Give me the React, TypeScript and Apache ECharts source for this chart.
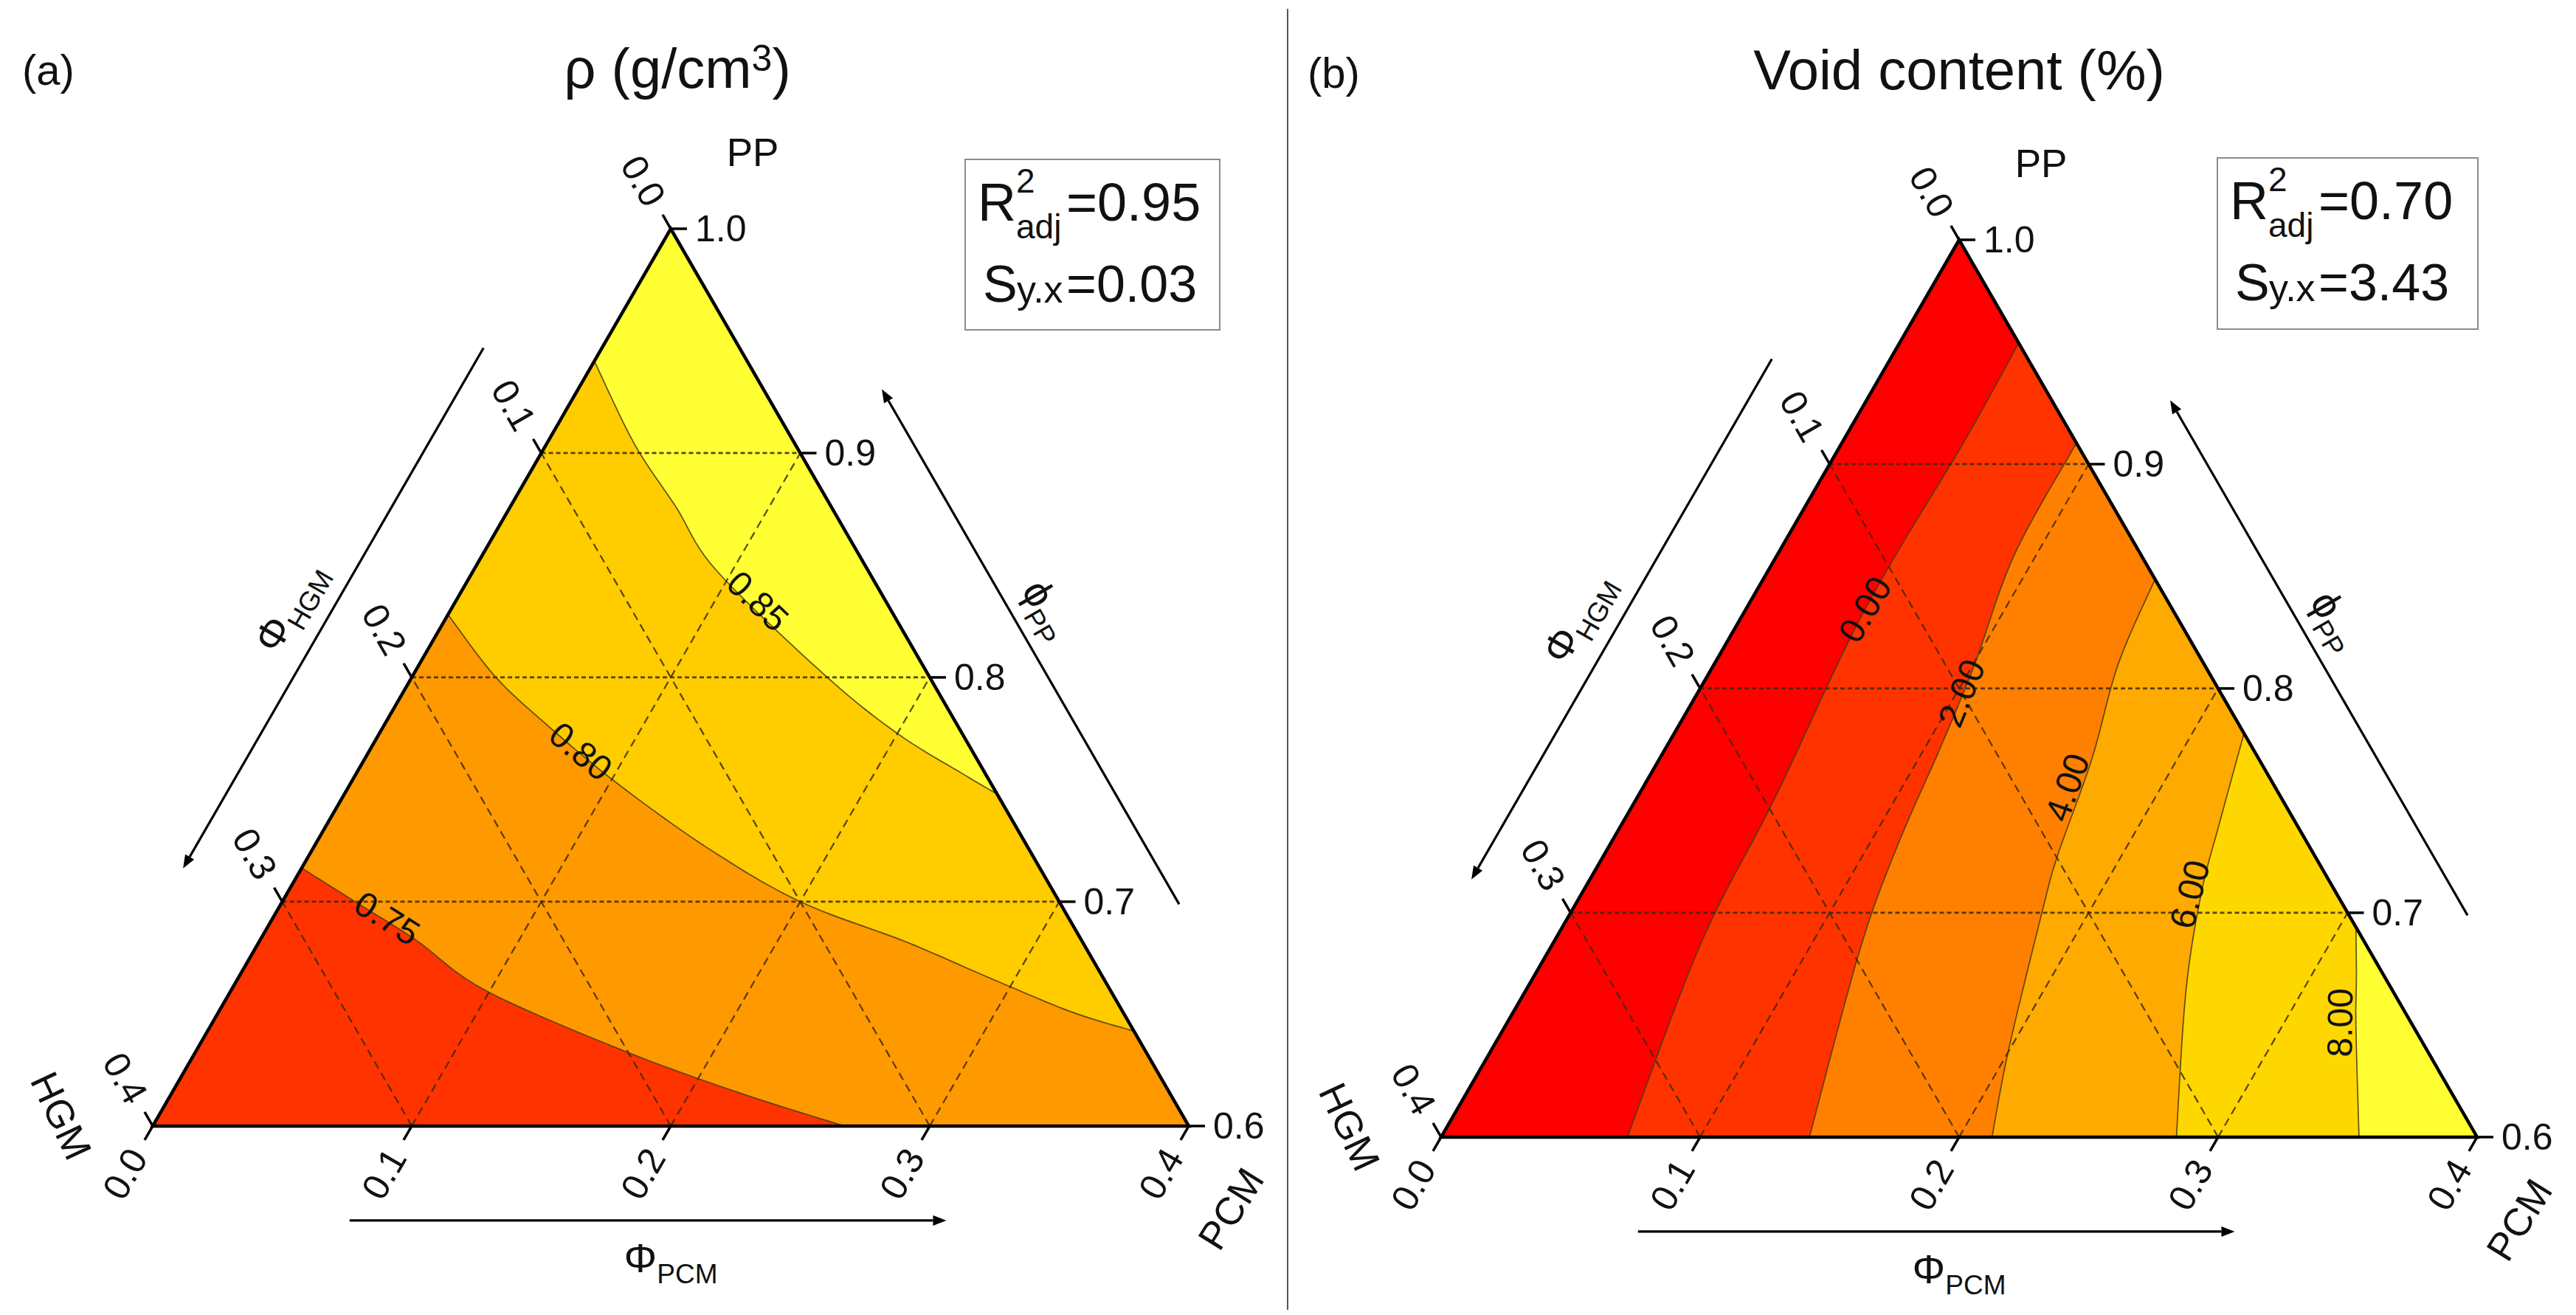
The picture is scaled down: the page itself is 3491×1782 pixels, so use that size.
import React, { useEffect, useRef } from 'react';
import * as echarts from 'echarts';

const FONT = '"Liberation Sans", Arial, Helvetica, sans-serif';
const SQ = Math.sqrt(3) / 2;

// ---------- ternary axes (points are [PCM, HGM]; PP = 1 - PCM - HGM) ----------
const PCM_TICKS = ['0.0', '0.1', '0.2', '0.3', '0.4'];
const HGM_TICKS = ['0.0', '0.1', '0.2', '0.3', '0.4'];
const PP_TICKS = ['0.6', '0.7', '0.8', '0.9', '1.0'];
const GRID_STEPS = [0.1, 0.2, 0.3];
const CORNERS = [[0, 0.4], [0.4, 0], [0, 0]];

// ---------- panel (a): density ----------
const RHO_LEVELS = ['0.75', '0.80', '0.85'];
const RHO_COLORS = ['#FF3300', '#FF9900', '#FFCC00', '#FFFF33'];
const RHO_075 = [[0, 0.285], [0.03, 0.271], [0.06, 0.257], [0.0985, 0.2412], [0.166, 0.2008], [0.22, 0.1655], [0.267, 0.133]];
const RHO_080 = [[0, 0.172], [0.032, 0.1676], [0.064, 0.158], [0.1032, 0.1442], [0.1527, 0.1236], [0.2, 0.1], [0.2495, 0.0683], [0.2899, 0.044], [0.3289, 0.0201], [0.3577, 0]];
const RHO_085 = [[0, 0.059], [0.034, 0.062], [0.064, 0.06], [0.094, 0.0585], [0.159, 0.04], [0.2, 0.025], [0.235, 0.0084], [0.252, 0]];
const RHO_CLOSE = [[[0.4, 0], [0, 0]], [[0, 0]], [[0, 0]]];
const RHO_LABEL_POS = [[0.0442, 0.2632], [0.0817, 0.1513], [0.1166, 0.0494]];

// ---------- panel (b): void content ----------
const VOID_LEVELS = ['0.00', '2.00', '4.00', '6.00', '8.00'];
const VOID_COLORS = ['#FF0000', '#FF3300', '#FF8000', '#FFAA00', '#FFD700', '#FFFF33'];
const VOID_0 = [[0.046, 0], [0.0469, 0.0438], [0.046, 0.1188], [0.0533, 0.1958], [0.0571, 0.2564], [0.0719, 0.3281]];
const VOID_2 = [[0.0906, 0], [0.0915, 0.0488], [0.1006, 0.0886], [0.1059, 0.1201], [0.1114, 0.1598], [0.1201, 0.1971], [0.1422, 0.2578]];
const VOID_4 = [[0.1513, 0], [0.156, 0.0332], [0.167, 0.0646], [0.1752, 0.099], [0.1815, 0.1169], [0.1995, 0.1611], [0.2127, 0.1873]];
const VOID_6 = [[0.22, 0], [0.2304, 0.0291], [0.2393, 0.0525], [0.2554, 0.0804], [0.2839, 0.1161]];
const VOID_8 = [[0.3064, 0], [0.3176, 0.0108], [0.3284, 0.022], [0.3544, 0.0456]];
const VOID_CLOSE = [[[0.4, 0]], [[0.4, 0]], [[0.4, 0]], [[0.4, 0]], [[0.4, 0]]];
const VOID_LABEL_POS = [[0.046, 0.1188], [0.102, 0.1001], [0.1638, 0.0803], [0.2349, 0.0569], [0.3216, 0.0274]];

const PANELS = [
  { contours: [RHO_075, RHO_080, RHO_085], levels: RHO_LEVELS, colors: RHO_COLORS, close: RHO_CLOSE, labelPos: RHO_LABEL_POS, grid: { left: 207, top: 310 } },
  { contours: [VOID_0, VOID_2, VOID_4, VOID_6, VOID_8], levels: VOID_LEVELS, colors: VOID_COLORS, close: VOID_CLOSE, labelPos: VOID_LABEL_POS, grid: { left: 1953, top: 325 } },
];

const GRID_SEGS: { a: number[]; b: number[]; h: boolean }[] = [];
GRID_STEPS.forEach((v) => {
  GRID_SEGS.push({ a: [v, 0.4 - v], b: [v, 0], h: false });
  GRID_SEGS.push({ a: [0.4 - v, v], b: [0, v], h: false });
  GRID_SEGS.push({ a: [0, 0.4 - v], b: [0.4 - v, 0], h: true });
});

function tern(p: number[]) {
  const b = p[0] / 0.4, l = p[1] / 0.4, a = 1 - b - l;
  return [b + 0.5 * a, SQ * a];
}

// Catmull-Rom rendering of a pixel polyline (drawing only; passes through every data point)
function smoothPath(pts: number[][], steps = 10) {
  if (pts.length < 3) return pts;
  const out: number[][] = [pts[0]];
  for (let i = 0; i < pts.length - 1; i++) {
    const p0 = pts[i - 1] || pts[i], p1 = pts[i], p2 = pts[i + 1], p3 = pts[i + 2] || pts[i + 1];
    for (let s = 1; s <= steps; s++) {
      const t = s / steps, t2 = t * t, t3 = t2 * t;
      const f = (a: number, b: number, c: number, d: number) =>
        0.5 * (2 * b + (-a + c) * t + (2 * a - 5 * b + 4 * c - d) * t2 + (-a + 3 * b - 3 * c + d) * t3);
      out.push([f(p0[0], p1[0], p2[0], p3[0]), f(p0[1], p1[1], p2[1], p3[1])]);
    }
  }
  return out;
}

function txt(str: string, p: number[], rot: number, align: string, size: number, extra: any = {}) {
  return {
    type: 'text', x: p[0], y: p[1], rotation: rot,
    style: {
      text: str, x: 0, y: 0, align, verticalAlign: 'middle', textAlign: align, textVerticalAlign: 'middle',
      fontSize: size, fontFamily: FONT, font: `${size}px ${FONT}`, fill: '#111', ...extra,
    },
  };
}

const unit = (a: number[], b: number[]) => {
  const dx = b[0] - a[0], dy = b[1] - a[1];
  const L = Math.hypot(dx, dy);
  return [dx / L, dy / L];
};
const lerp = (a: number[], b: number[], t: number) => [a[0] + (b[0] - a[0]) * t, a[1] + (b[1] - a[1]) * t];
const outward = (P: number[], Q: number[], O: number[]) => {
  const u = unit(P, Q);
  let n = [-u[1], u[0]];
  const m = lerp(P, Q, 0.5);
  if ((m[0] - O[0]) * n[0] + (m[1] - O[1]) * n[1] < 0) n = [-n[0], -n[1]];
  return n;
};

function renderFrame(_params: any, api: any) {
  const BL = api.coord(tern(CORNERS[0])), BR = api.coord(tern(CORNERS[1])), AP = api.coord(tern(CORNERS[2]));
  const ch: any[] = [];
  ch.push({ type: 'polygon', shape: { points: [BL, BR, AP] }, style: { fill: null, stroke: '#000', lineWidth: 4.5, lineJoin: 'miter' } });
  const dPCM = unit(AP, BL);
  const dHGM = unit(BR, AP);
  const dPP = unit(BL, BR);
  const TICK = 22;
  const addTick = (base: number[], d: number[], label: string, pp: boolean) => {
    const end = [base[0] + d[0] * TICK, base[1] + d[1] * TICK];
    ch.push({ type: 'line', shape: { x1: base[0], y1: base[1], x2: end[0], y2: end[1] }, style: { stroke: '#000', lineWidth: 3.5 } });
    if (pp) {
      ch.push(txt(label, [base[0] + d[0] * 33, base[1] + d[1] * 33], 0, 'left', 50));
    } else {
      const rot = Math.atan2(d[1], -d[0]);
      ch.push(txt(label, [base[0] + d[0] * 40, base[1] + d[1] * 40], rot, 'right', 50));
    }
  };
  PCM_TICKS.forEach((t) => { const v = +t; addTick(api.coord(tern([v, 0.4 - v])), dPCM, t, false); });
  HGM_TICKS.forEach((t) => { const v = +t; addTick(api.coord(tern([0, v])), dHGM, t, false); });
  PP_TICKS.forEach((t) => { const v = +t; addTick(api.coord(tern([1 - v, 0])), dPP, t, true); });

  // vertex names
  ch.push(txt('PP', [AP[0] + 111, AP[1] - 104], 0, 'center', 53));
  ch.push(txt('HGM', [BL[0] - 124, BL[1] - 14], (-65 * Math.PI) / 180, 'center', 53));
  ch.push(txt('PCM', [BR[0] + 57, BR[1] + 112], (58 * Math.PI) / 180, 'center', 53));

  // arrows
  const arrow = (P: number[], Q: number[], O: number[], t0: number, t1: number, off: number) => {
    const n = outward(P, Q, O);
    const s = lerp(P, Q, t0), e = lerp(P, Q, t1);
    const S = [s[0] + n[0] * off, s[1] + n[1] * off], E = [e[0] + n[0] * off, e[1] + n[1] * off];
    const u = unit(S, E);
    const HL = 18, HW = 7;
    const b = [E[0] - u[0] * HL, E[1] - u[1] * HL];
    ch.push({ type: 'line', shape: { x1: S[0], y1: S[1], x2: b[0], y2: b[1] }, style: { stroke: '#000', lineWidth: 3.2 } });
    ch.push({ type: 'polygon', shape: { points: [E, [b[0] - u[1] * HW, b[1] + u[0] * HW], [b[0] + u[1] * HW, b[1] - u[0] * HW]] }, style: { fill: '#000' } });
  };
  arrow(AP, BL, BR, 0.19, 0.77, 139);
  arrow(BR, AP, BL, 0.19, 0.764, 139);
  arrow(BL, BR, AP, 0.19, 0.766, 128);

  const axisTitle = (P: number[], Q: number[], O: number[], off: number, rot: number, sym: string, sub: string) => {
    const n = outward(P, Q, O);
    const m = lerp(P, Q, 0.5);
    const p = [m[0] + n[0] * off, m[1] + n[1] * off];
    ch.push({
      type: 'text', x: p[0], y: p[1], rotation: rot,
      style: {
        text: `{a|${sym}}{b|${sub}}`, x: 0, y: 0, align: 'center', verticalAlign: 'middle', textAlign: 'center', textVerticalAlign: 'middle',
        fill: '#111',
        rich: {
          a: { fontSize: 56, fontFamily: FONT, fill: '#111', color: '#111', lineHeight: 80 },
          b: { fontSize: 37, fontFamily: FONT, fill: '#111', color: '#111', lineHeight: 80, verticalAlign: 'bottom' },
        },
      },
    });
  };
  axisTitle(AP, BL, BR, 193, (60 * Math.PI) / 180, 'Φ', 'HGM');
  axisTitle(BR, AP, BL, 185, (-60 * Math.PI) / 180, 'ϕ', 'PP');
  axisTitle(BL, BR, AP, 179, 0, 'Φ', 'PCM');

  return { type: 'group', children: ch };
}

function panelSeries(P: any, k: number) {
  const base = { type: 'custom', coordinateSystem: 'cartesian2d', xAxisIndex: k, yAxisIndex: k, silent: true, clip: false };
  return [
    {
      ...base, z: 1, data: P.colors.map(() => [0.5, 0.3]),
      renderItem: (params: any, api: any) => {
        const i = params.dataIndex;
        const pts = i === 0
          ? CORNERS.map((p) => api.coord(tern(p)))
          : [...smoothPath(P.contours[i - 1].map((p: number[]) => api.coord(tern(p)))), ...P.close[i - 1].map((p: number[]) => api.coord(tern(p)))];
        return { type: 'polygon', shape: { points: pts }, style: { fill: P.colors[i], stroke: P.colors[i], lineWidth: 0.5 } };
      },
    },
    {
      ...base, z: 2, data: P.contours.map(() => [0.5, 0.3]),
      renderItem: (params: any, api: any) => {
        const c = P.contours[params.dataIndex];
        return { type: 'polyline', shape: { points: smoothPath(c.map((p: number[]) => api.coord(tern(p)))) }, style: { fill: null, stroke: 'rgba(70,55,20,0.85)', lineWidth: 1.7 } };
      },
    },
    {
      ...base, z: 3, data: GRID_SEGS.map(() => [0.5, 0.3]),
      renderItem: (params: any, api: any) => {
        const g = GRID_SEGS[params.dataIndex];
        const a = api.coord(tern(g.a)), b = api.coord(tern(g.b));
        return {
          type: 'line', shape: { x1: a[0], y1: a[1], x2: b[0], y2: b[1] },
          style: { stroke: 'rgba(60,40,15,0.85)', lineWidth: g.h ? 2.8 : 2.2, lineDash: g.h ? [6, 4] : [11, 7] },
        };
      },
    },
    { ...base, z: 4, data: [[0.5, 0.3]], renderItem: renderFrame },
    {
      ...base, z: 5, data: P.levels.map(() => [0.5, 0.3]),
      renderItem: (params: any, api: any) => {
        const i = params.dataIndex;
        const c = P.contours[i].map((p: number[]) => api.coord(tern(p)));
        const pos = api.coord(tern(P.labelPos[i]));
        let best = 0, bd = Infinity;
        for (let j = 0; j < c.length - 1; j++) {
          const m = [(c[j][0] + c[j + 1][0]) / 2, (c[j][1] + c[j + 1][1]) / 2];
          const d = Math.hypot(m[0] - pos[0], m[1] - pos[1]);
          if (d < bd) { bd = d; best = j; }
        }
        const dx = c[best + 1][0] - c[best][0], dy = c[best + 1][1] - c[best][1];
        let ang = Math.atan2(-dy, dx);
        while (ang > (100 * Math.PI) / 180) ang -= Math.PI;
        while (ang <= (-80 * Math.PI) / 180) ang += Math.PI;
        return txt(P.levels[i], pos, ang, 'center', 48);
      },
    },
  ];
}

function gtext(str: string, x: number, y: number, size: number, align = 'left') {
  return {
    type: 'text', x, y, z: 10,
    style: { text: str, fontSize: size, fontFamily: FONT, font: `${size}px ${FONT}`, fill: '#111', textAlign: align, align, textVerticalAlign: 'middle', verticalAlign: 'middle' },
  };
}

function statBox(x: number, y: number, w: number, h: number, r2: string, syx: string) {
  return [
    { type: 'rect', x, y, z: 9, shape: { x: 0, y: 0, width: w, height: h }, style: { fill: '#fff', stroke: '#8c8c8c', lineWidth: 2 } },
    gtext('R', x + 17, y + 58, 72),
    gtext('2', x + 69, y + 29, 46),
    gtext('adj', x + 69, y + 91, 46),
    gtext('=' + r2, x + 137, y + 58, 72),
    gtext('S', x + 24, y + 169, 70),
    gtext('y.x', x + 70, y + 176, 52),
    gtext('=' + syx, x + 137, y + 169, 70),
  ];
}

function buildOption() {
  const grids = PANELS.map((P) => ({ left: P.grid.left, top: P.grid.top, width: 1404, height: 1404 * SQ }));
  return {
    animation: false,
    backgroundColor: '#ffffff',
    grid: grids,
    xAxis: PANELS.map((_, k) => ({ type: 'value', gridIndex: k, min: 0, max: 1, show: false })),
    yAxis: PANELS.map((_, k) => ({ type: 'value', gridIndex: k, min: 0, max: SQ, show: false })),
    series: [...panelSeries(PANELS[0], 0), ...panelSeries(PANELS[1], 1)],
    graphic: [
      gtext('(a)', 30, 94, 58),
      {
        type: 'text', x: 918, y: 92, z: 10,
        style: {
          text: '{a|ρ (g/cm}{s|3}{a|)}', align: 'center', verticalAlign: 'middle', textAlign: 'center', textVerticalAlign: 'middle', fill: '#111',
          rich: {
            a: { fontSize: 76, fontFamily: FONT, fill: '#111', color: '#111', lineHeight: 76 },
            s: { fontSize: 50, fontFamily: FONT, fill: '#111', color: '#111', lineHeight: 76, verticalAlign: 'top' },
          },
        },
      },
      gtext('(b)', 1772, 98, 58),
      gtext('Void content (%)', 2655, 94, 76, 'center'),
      { type: 'line', z: 10, shape: { x1: 1745, y1: 12, x2: 1745, y2: 1775 }, style: { stroke: '#555', lineWidth: 2 } },
      ...statBox(1308, 216, 345, 231, '0.95', '0.03'),
      ...statBox(3005, 214, 353, 232, '0.70', '3.43'),
    ],
  };
}

export default function App() {
  const ref = useRef<HTMLDivElement>(null);
  useEffect(() => {
    if (!ref.current) return;
    const chart = echarts.init(ref.current, undefined, { renderer: 'svg' });
    chart.setOption(buildOption() as any);
    return () => chart.dispose();
  }, []);
  return <div ref={ref} style={{ position: 'absolute', left: 0, top: 0, width: 3491, height: 1782, background: '#fff' }} />;
}
